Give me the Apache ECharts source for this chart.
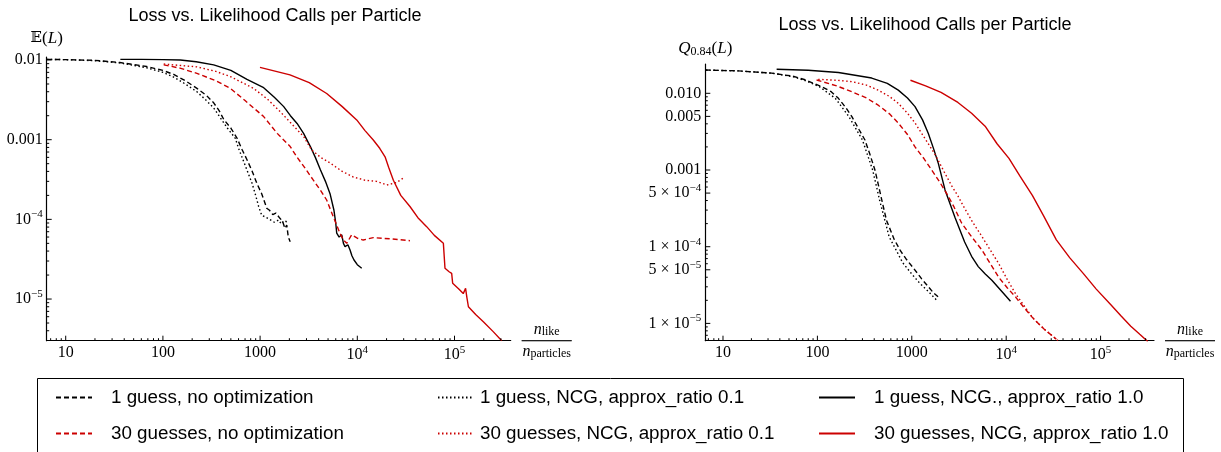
<!DOCTYPE html>
<html>
<head>
<meta charset="utf-8">
<title>Loss vs. Likelihood Calls per Particle</title>
<script src="https://cdn.jsdelivr.net/npm/echarts@6.0.0/dist/echarts.min.js"></script>
<style>
  html, body { margin: 0; padding: 0; background: #fff; }
  #chart { width: 1221px; height: 452px; }
</style>
</head>
<body>
<div id="chart"></div>
<script>
// series names (shared by both panels)
const seriesNames = [
  '1 guess, no optimization',
  '1 guess, NCG, approx_ratio 0.1',
  '1 guess, NCG., approx_ratio 1.0',
  '30 guesses, no optimization',
  '30 guesses, NCG, approx_ratio 0.1',
  '30 guesses, NCG, approx_ratio 1.0'
];

// left panel: E(L) vs n_like / n_particles
const meanNoOpt1 = [[6.4,0.0102],[10,0.0101],[20,0.0099],[36,0.0093],[68,0.0083],[100,0.0074],[129,0.0066],[170,0.0055],[224,0.0044],[280,0.0036],[333,0.0029],[380,0.0023],[422,0.0018],[500,0.0014],[578,0.00105],[650,0.00076],[733,0.00056],[830,0.0004],[929,0.00028],[1038,0.00021],[1170,0.000138],[1250,0.00013],[1350,0.000115],[1450,0.00012],[1600,0.000103],[1700,0.000095],[1800,0.000077],[1880,0.000085],[1950,0.00006],[2040,0.0000525]];
const meanNcg01x1 = [[6.4,0.0102],[10,0.0101],[20,0.0098],[36,0.0092],[68,0.008],[100,0.007],[129,0.0061],[170,0.005],[224,0.004],[280,0.0031],[333,0.0025],[400,0.0018],[460,0.0014],[556,0.00104],[600,0.00078],[700,0.00048],[826,0.000284],[900,0.0002],[966,0.000145],[1040,0.000112],[1120,0.000108],[1250,0.0001],[1400,0.000092],[1550,0.000098],[1650,0.000088],[1750,0.000096],[1900,0.000093]];
const meanNcg10x1 = [[36.5,0.0102],[60,0.0102],[100,0.0101],[151,0.01],[220,0.0095],[333,0.0087],[500,0.0074],[733,0.0057],[1088,0.0045],[1400,0.0034],[1750,0.0026],[2050,0.002],[2400,0.0016],[2800,0.0012],[3290,0.00082],[3700,0.0006],[4170,0.00042],[4700,0.0003],[5240,0.00021],[5750,0.00013],[6000,0.00009],[6140,0.000067],[6500,0.00006],[6920,0.000064],[7200,0.00005],[7480,0.0000454],[8000,0.000048],[8420,0.0000413],[8800,0.000035],[9250,0.0000309],[10000,0.000027],[11100,0.0000243]];
const meanNoOpt30 = [[102,0.0087],[150,0.0079],[224,0.0068],[350,0.0055],[494,0.0044],[700,0.0031],[1088,0.00195],[1500,0.0012],[2040,0.00082],[2380,0.00061],[2900,0.00044],[3530,0.00031],[4200,0.00023],[4840,0.000175],[5660,0.000108],[6630,0.000067],[7200,0.000055],[7780,0.00005],[8750,0.000064],[10000,0.000058],[11500,0.000055],[14600,0.000059],[21700,0.000057],[34800,0.000054]];
const meanNcg01x30 = [[102,0.0089],[224,0.0082],[350,0.0072],[494,0.0062],[859,0.0044],[1200,0.0032],[1614,0.00224],[2200,0.0015],[2810,0.00109],[3400,0.00074],[4200,0.0006],[5240,0.00051],[7000,0.0004],[9100,0.00034],[12000,0.00031],[15800,0.0003],[20100,0.00027],[25400,0.00029],[29700,0.00033]];
const meanNcg10x30 = [[997,0.0081],[2030,0.0065],[3200,0.0052],[4840,0.0038],[7000,0.0026],[9860,0.00177],[12000,0.0013],[14600,0.00099],[17000,0.00078],[19300,0.00061],[21000,0.00045],[23500,0.00031],[28000,0.0002],[34800,0.000145],[42000,0.000105],[51700,0.000081],[62000,0.000063],[76800,0.00005],[79800,0.0000243],[88000,0.000022],[93500,0.000021],[95700,0.0000158],[110000,0.0000135],[123000,0.0000117],[127000,0.0000112],[130000,0.0000136],[134000,0.0000105],[139000,0.000008],[165000,0.0000064],[198000,0.0000052],[250000,0.0000039],[306000,0.000003]];

// right panel: Q_0.84(L) vs n_like / n_particles
const q84NoOpt1 = [[6.5,0.0201],[14.5,0.0196],[32.8,0.0183],[55,0.0167],[74,0.015],[111,0.0122],[140,0.0105],[167,0.0086],[200,0.0065],[231,0.005],[275,0.0034],[319,0.00246],[360,0.0016],[407,0.001],[440,0.00066],[480,0.00041],[540,0.00022],[650,0.000125],[760,0.000088],[880,0.000068],[1050,0.000052],[1273,0.000038],[1466,0.000031],[1700,0.000025],[2000,0.000021]];
const q84Ncg01x1 = [[6.5,0.0201],[14.5,0.0196],[32.8,0.0183],[55,0.0165],[74,0.0147],[105,0.0122],[155,0.0086],[215,0.005],[300,0.00246],[385,0.001],[455,0.00041],[575,0.000135],[700,0.000085],[800,0.000062],[1000,0.000044],[1200,0.000034],[1500,0.000026],[1840,0.00002]];
const q84Ncg10x1 = [[37,0.0206],[80,0.02],[167,0.0187],[376,0.0158],[550,0.0135],[719,0.011],[900,0.0087],[1082,0.0067],[1300,0.0045],[1497,0.003],[1700,0.0019],[1910,0.00122],[2250,0.00055],[2870,0.00024],[3630,0.000115],[4300,0.000075],[5060,0.000055],[6000,0.000044],[7050,0.0000365],[9000,0.000026],[11100,0.0000194]];
const q84NoOpt30 = [[98,0.0149],[160,0.0125],[231,0.0105],[330,0.0087],[441,0.007],[580,0.0054],[719,0.0041],[900,0.0029],[1082,0.002],[1350,0.0014],[1625,0.001],[2000,0.00068],[2400,0.00047],[2800,0.00033],[3380,0.000202],[4300,0.000135],[5510,0.000091],[6800,0.00006],[8320,0.00004],[10300,0.000029],[12600,0.000022],[15500,0.000016],[19000,0.0000119],[25000,0.0000085],[34000,0.0000062]];
const q84Ncg01x30 = [[102,0.0152],[160,0.0148],[231,0.0142],[330,0.0128],[441,0.011],[580,0.0091],[719,0.0074],[900,0.0055],[1082,0.0041],[1400,0.0025],[1760,0.0016],[2200,0.00095],[2650,0.00062],[3080,0.00046],[3510,0.00034],[4400,0.00021],[5510,0.000137],[6800,0.00009],[8320,0.0000605],[10300,0.000037],[12600,0.0000243],[15500,0.000017],[19000,0.0000119],[25000,0.0000085],[35300,0.000006]];
const q84Ncg10x30 = [[968,0.0148],[1400,0.0125],[2040,0.0103],[3080,0.0076],[4300,0.0055],[5980,0.00373],[8000,0.0022],[10700,0.00142],[14000,0.00083],[19000,0.000464],[25000,0.00025],[34000,0.000123],[47000,0.000072],[65800,0.0000446],[90000,0.000028],[127000,0.0000178],[165000,0.0000125],[209000,0.0000092],[260000,0.0000072],[316000,0.0000058]];

// ticks and tick labels
const xTicks = [10, 100, 1000, 10000, 100000];
const xTickLabels = ['10', '100', '1000', '10{sup|4}', '10{sup|5}'];
const xMinorTicks = [7,8,9,20,30,40,50,60,70,80,90,200,300,400,500,600,700,800,900,2000,3000,4000,5000,6000,7000,8000,9000,20000,30000,40000,50000,60000,70000,80000,90000,200000,300000];
const meanTicks = [1e-5, 1e-4, 1e-3, 1e-2];
const meanTickLabels = ['10{sup|\u22125}', '10{sup|\u22124}', '0.001', '0.01'];
const meanMinorTicks = [4e-6,5e-6,6e-6,7e-6,8e-6,9e-6,2e-5,3e-5,4e-5,5e-5,6e-5,7e-5,8e-5,9e-5,2e-4,3e-4,4e-4,5e-4,6e-4,7e-4,8e-4,9e-4,2e-3,3e-3,4e-3,5e-3,6e-3,7e-3,8e-3,9e-3];
const q84Ticks = [1e-5, 5e-5, 1e-4, 5e-4, 1e-3, 5e-3, 1e-2];
const q84TickLabels = ['1 \u00d7 10{sup|\u22125}', '5 \u00d7 10{sup|\u22125}', '1 \u00d7 10{sup|\u22124}', '5 \u00d7 10{sup|\u22124}', '0.001', '0.005', '0.010'];
const q84MinorTicks = [6e-6,7e-6,8e-6,9e-6,2e-5,3e-5,4e-5,6e-5,7e-5,8e-5,9e-5,2e-4,3e-4,4e-4,6e-4,7e-4,8e-4,9e-4,2e-3,3e-3,4e-3,6e-3,7e-3,8e-3,9e-3,2e-2];

// axis ranges
const meanXRange = [6.375, 378500];
const meanYRange = [3.0e-6, 0.01091];
const q84XRange = [6.494, 368000];
const q84YRange = [5.95e-6, 0.0241];

const RED = '#cc0000';
const styles = [
  { color: '#000', type: [5, 3] },
  { color: '#000', type: [1.5, 2.5] },
  { color: '#000', type: 'solid' },
  { color: RED, type: [5, 3] },
  { color: RED, type: [1.5, 2.5] },
  { color: RED, type: 'solid' }
];

const SERIF = 'Liberation Serif, Times New Roman, serif';
const SANS = 'Liberation Sans, Arial, sans-serif';
const richLabel = {
  sup: { fontFamily: SERIF, fontSize: 11, color: '#000', padding: [0, 0, 10, 0] }
};

function labelFor(ticks, labels) {
  return function (v) {
    const i = ticks.findIndex(t => Math.abs(Math.log10(t) - Math.log10(v)) < 1e-6);
    return i < 0 ? '' : labels[i];
  };
}

function xAxis(gridIndex, range) {
  return {
    type: 'log', gridIndex, position: 'bottom', min: range[0], max: range[1],
    name: '{n|n}{s|like}\n{hr|}\n{n|n}{s|particles}',
    nameLocation: 'end', nameGap: 36,
    nameTextStyle: {
      align: 'center', verticalAlign: 'middle',
      rich: {
        n: { fontFamily: SERIF, fontStyle: 'italic', fontSize: 16, color: '#000', lineHeight: 18 },
        s: { fontFamily: SERIF, fontSize: 12, color: '#000', padding: [5, 0, 0, 0], lineHeight: 18 },
        hr: { width: 50, height: 0, borderWidth: 0.8, borderColor: '#000', lineHeight: 4 }
      }
    },
    axisLine: { show: true, onZero: false, lineStyle: { color: '#000', width: 1.2 } },
    axisTick: { show: false },
    axisLabel: {
      customValues: xTicks, formatter: labelFor(xTicks, xTickLabels),
      color: '#000', fontFamily: SERIF, fontSize: 16, margin: 4, rich: richLabel
    },
    splitLine: { show: false }
  };
}

function yAxis(gridIndex, range, ticks, labels, name, gap) {
  return {
    type: 'log', gridIndex, position: 'left', min: range[0], max: range[1],
    name, nameLocation: 'end', nameGap: gap,
    nameTextStyle: { rich: nameRich },
    axisLine: { show: true, onZero: false, lineStyle: { color: '#000', width: 1.2 } },
    axisTick: { show: false },
    axisLabel: {
      customValues: ticks, formatter: labelFor(ticks, labels),
      color: '#000', fontFamily: SERIF, fontSize: 16, margin: 4, rich: richLabel
    },
    splitLine: { show: false }
  };
}

const nameRich = {
  e: { fontFamily: 'DejaVu Serif, DejaVu Sans', fontSize: 15, color: '#000' },
  t: { fontFamily: SERIF, fontSize: 17, color: '#000' },
  i: { fontFamily: SERIF, fontSize: 17, fontStyle: 'italic', color: '#000' },
  sub: { fontFamily: SERIF, fontSize: 12, color: '#000', padding: [7, 0, 0, 0] }
};

// tick marks drawn through the axes' own scales (inward, Mathematica style)
function tickSeries(axisIndex, values, dim, otherMin, len) {
  return {
    type: 'custom', xAxisIndex: axisIndex, yAxisIndex: axisIndex,
    silent: true, clip: false, animation: false, z: 5,
    data: values.map(v => dim === 'x' ? [v, otherMin] : [otherMin, v]),
    renderItem: function (params, api) {
      const p = api.coord([api.value(0), api.value(1)]);
      const shape = dim === 'x'
        ? { x1: p[0], y1: p[1], x2: p[0], y2: p[1] - len }
        : { x1: p[0], y1: p[1], x2: p[0] + len, y2: p[1] };
      return { type: 'line', shape, style: { stroke: '#000', lineWidth: 1 } };
    }
  };
}

const leftData = [meanNoOpt1, meanNcg01x1, meanNcg10x1, meanNoOpt30, meanNcg01x30, meanNcg10x30];
const rightData = [q84NoOpt1, q84Ncg01x1, q84Ncg10x1, q84NoOpt30, q84Ncg01x30, q84Ncg10x30];

function makeSeries(data, axisIndex) {
  return data.map((d, i) => ({
    name: seriesNames[i], type: 'line', data: d,
    xAxisIndex: axisIndex, yAxisIndex: axisIndex,
    symbol: 'none', showSymbol: false, clip: true, animation: false,
    lineStyle: { color: styles[i].color, type: styles[i].type, width: 1.4 },
    itemStyle: { color: styles[i].color }
  }));
}

function legendColumn(names, left, pad) {
  return {
    data: names, orient: 'vertical', left, top: 388, height: 120, padding: 0,
    itemWidth: 36, itemHeight: 14, itemGap: 17, selectedMode: false,
    itemStyle: { opacity: 0 },
    textStyle: { fontFamily: SANS, fontSize: 18.8, color: '#000', padding: [0, 0, 0, pad] }
  };
}

const chart = echarts.init(document.getElementById('chart'), null, { renderer: 'canvas' });
chart.setOption({
  animation: false,
  backgroundColor: '#fff',
  grid: [
    { left: 46.7, top: 57, width: 464, height: 283.7 },
    { left: 705.3, top: 64, width: 448.7, height: 276.7 }
  ],
  xAxis: [xAxis(0, meanXRange), xAxis(1, q84XRange)],
  yAxis: [
    yAxis(0, meanYRange, meanTicks, meanTickLabels, '{e|\ud835\udd3c}{t|(}{i|L}{t|)}', 10),
    yAxis(1, q84YRange, q84Ticks, q84TickLabels, '{i|Q}{sub|0.84}{t|(}{i|L}{t|)}', 6)
  ],
  legend: [
    legendColumn([seriesNames[0], seriesNames[3]], 55, 14),
    legendColumn([seriesNames[1], seriesNames[4]], 437, 1),
    legendColumn([seriesNames[2], seriesNames[5]], 818, 14)
  ],
  graphic: [
    { type: 'text', x: 275, y: 16, silent: true,
      style: { text: 'Loss vs. Likelihood Calls per Particle', font: '18px ' + SANS, fill: '#000', align: 'center', verticalAlign: 'middle' } },
    { type: 'text', x: 925, y: 25, silent: true,
      style: { text: 'Loss vs. Likelihood Calls per Particle', font: '18px ' + SANS, fill: '#000', align: 'center', verticalAlign: 'middle' } },
    { type: 'rect', silent: true, shape: { x: 37.5, y: 378.5, width: 1146, height: 100 },
      style: { fill: 'none', stroke: '#000', lineWidth: 1 } }
  ],
  series: [
    ...makeSeries(leftData, 0),
    ...makeSeries(rightData, 1),
    tickSeries(0, xTicks, 'x', meanYRange[0], 5),
    tickSeries(0, xMinorTicks, 'x', meanYRange[0], 2.5),
    tickSeries(0, meanTicks, 'y', meanXRange[0], 5),
    tickSeries(0, meanMinorTicks, 'y', meanXRange[0], 2.5),
    tickSeries(1, xTicks, 'x', q84YRange[0], 5),
    tickSeries(1, xMinorTicks, 'x', q84YRange[0], 2.5),
    tickSeries(1, q84Ticks, 'y', q84XRange[0], 5),
    tickSeries(1, q84MinorTicks, 'y', q84XRange[0], 2.5)
  ]
});
</script>
</body>
</html>
